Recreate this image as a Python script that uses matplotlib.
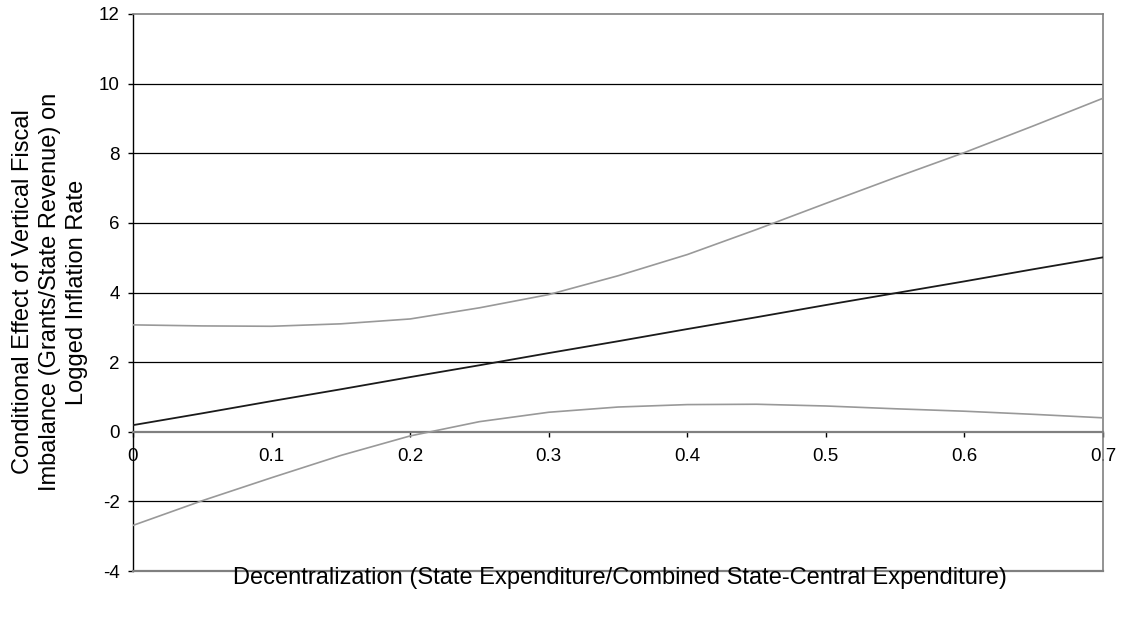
import matplotlib
matplotlib.use("Agg")
import matplotlib.pyplot as plt

plt.rcParams['font.family'] = ['Liberation Sans', 'DejaVu Sans']
plt.rcParams['axes.unicode_minus'] = False

# Data
x_vals = [0.0, 0.05, 0.10, 0.15, 0.20, 0.25, 0.30, 0.35, 0.40, 0.45, 0.50, 0.55, 0.60, 0.65, 0.70]
effect = [0.19, 0.53, 0.88, 1.22, 1.57, 1.91, 2.26, 2.60, 2.95, 3.29, 3.64, 3.98, 4.32, 4.67, 5.01]
upper = [3.07, 3.04, 3.03, 3.10, 3.24, 3.56, 3.94, 4.48, 5.09, 5.81, 6.56, 7.30, 8.02, 8.79, 9.58]
lower = [-2.69, -1.98, -1.32, -0.68, -0.12, 0.29, 0.56, 0.71, 0.78, 0.79, 0.74, 0.66, 0.59, 0.50, 0.40]

x_ticks = [0, 0.1, 0.2, 0.3, 0.4, 0.5, 0.6, 0.7]
x_tick_labels = ['0', '0.1', '0.2', '0.3', '0.4', '0.5', '0.6', '0.7']
y_ticks = [-4, -2, 0, 2, 4, 6, 8, 10, 12]

fig = plt.figure(figsize=(11.24, 6.23), dpi=100)
ax = fig.add_axes([133/1124, 1-571/623, (1103-133)/1124, (571-14)/623])

gray = '#808080'
for yt in y_ticks:
    if yt not in (0, -4, 12):
        ax.axhline(yt, color='black', lw=0.9, zorder=1)

ax.plot(x_vals, upper, color='#999999', lw=1.2, zorder=3)
ax.plot(x_vals, lower, color='#999999', lw=1.2, zorder=3)
ax.plot(x_vals, effect, color='#1a1a1a', lw=1.3, zorder=4)

ax.set_xlim(0, 0.7)
ax.set_ylim(-4, 12)
ax.set_xticks(x_ticks)
ax.set_xticklabels(x_tick_labels)
ax.set_yticks(y_ticks)

ax.spines['bottom'].set_position(('data', 0))
ax.spines['bottom'].set_color(gray)
ax.spines['bottom'].set_linewidth(1.6)
ax.spines['top'].set_color(gray)
ax.spines['top'].set_linewidth(1.2)
ax.spines['right'].set_color(gray)
ax.spines['right'].set_linewidth(1.2)
ax.spines['left'].set_color('black')
ax.spines['left'].set_linewidth(1.0)
ax.axhline(-4, color=gray, lw=1.6, clip_on=False, zorder=5)

ax.tick_params(axis='x', direction='out', length=3.5, width=1, colors='black', pad=8.5, labelsize=13.5)
ax.tick_params(axis='y', direction='out', length=3.5, width=1, colors='black', pad=6, labelsize=13.5)

fig.text(620/1124, 1-578/623,
         'Decentralization (State Expenditure/Combined State-Central Expenditure)',
         ha='center', va='center', fontsize=17)
fig.text(50/1124, 1-292/623,
         'Conditional Effect of Vertical Fiscal\nImbalance (Grants/State Revenue) on\nLogged Inflation Rate',
         ha='center', va='center', rotation=90, fontsize=17, multialignment='center',
         linespacing=1.3)

fig.savefig('out.png', dpi=100)
